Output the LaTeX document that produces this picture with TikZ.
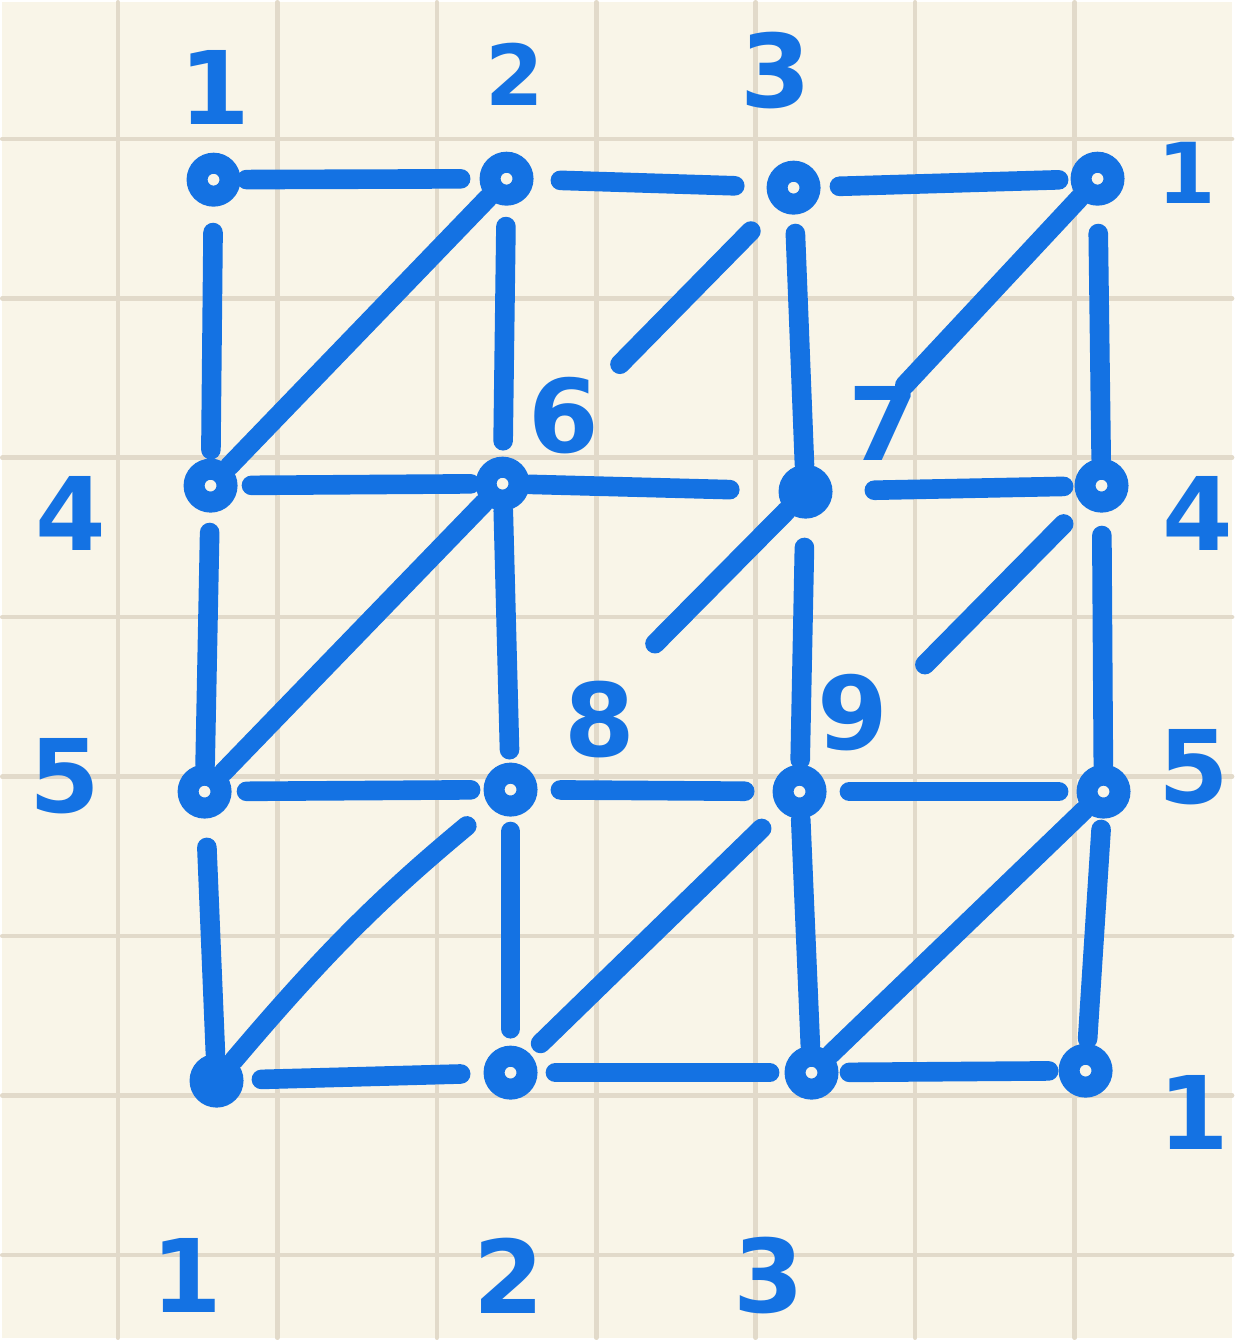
\documentclass[tikz,border=0pt]{standalone}
\usepackage{fontspec}
\setmainfont{DejaVu Sans}
\usetikzlibrary{positioning,backgrounds}
\definecolor{pnBlue}{HTML}{1472E3}
\definecolor{pnPaper}{HTML}{F9F5E8}
\definecolor{pnGrid}{HTML}{E2DACA}

\begin{document}
\begin{tikzpicture}[
  line cap=round,
  vtx/.style={circle,draw=pnBlue,fill=pnPaper,line width=6pt,minimum size=0.33cm,inner sep=0pt},
  hub/.style={vtx,fill=pnBlue},
  ln/.style 2 args={draw=pnBlue,line width=5.6pt,shorten <=#1cm,shorten >=#2cm},
  num/.style={font=\bfseries\fontsize{29}{29}\selectfont,text=pnBlue,inner sep=0pt},
  small/.style={num,font=\bfseries\fontsize{24}{24}\selectfont},
]
% squared paper
\fill[pnPaper] (0,0) rectangle (12.34,-13.40);
\foreach \k in {0,...,6} \draw[pnGrid,line width=1.3pt] ({1.16+1.6*\k},0) -- ++(0,-13.40);
\foreach \k in {0,...,7} \draw[pnGrid,line width=1.3pt] (0,{-1.37-1.6*\k}) -- ++(12.34,0);

% vertices, row by row
\node[vtx] (v11) at (2.12,-1.78) {};
\node[vtx] (v12) at (5.06,-1.77) {};
\node[vtx] (v13) at (7.94,-1.86) {};
\node[vtx] (v14) at (10.99,-1.77) {};
\node[vtx] (v21) at (2.09,-4.85) {};
\node[vtx] (v22) at (5.02,-4.83) {};
\node[hub] (v23) at (8.06,-4.91) {};
\node[vtx] (v24) at (11.03,-4.85) {};
\node[vtx] (v31) at (2.03,-7.92) {};
\node[vtx] (v32) at (5.10,-7.90) {};
\node[vtx] (v33) at (8.00,-7.92) {};
\node[vtx] (v34) at (11.05,-7.92) {};
\node[hub] (v41) at (2.15,-10.82) {};
\node[vtx] (v42) at (5.10,-10.74) {};
\node[vtx] (v43) at (8.12,-10.74) {};
\node[vtx] (v44) at (10.87,-10.72) {};

% horizontal edges
\path (v11) edge[ln={0.06}{0.19}] (v12) (v12) edge[ln={0.27}{0.32}] (v13) (v13) edge[ln={0.19}{0.12}] (v14);
\path (v21) edge[ln={0.14}{0.05}] (v22) (v22) edge[ln={0}{0.49}] (v23) (v23) edge[ln={0.42}{0.11}] (v24);
\path (v31) edge[ln={0.15}{0.13}] (v32) (v32) edge[ln={0.23}{0.28}] (v33) (v33) edge[ln={0.23}{0.18}] (v34);
\path (v41) edge[ln={0.18}{0.23}] (v42) (v42) edge[ln={0.18}{0.15}] (v43) (v43) edge[ln={0.11}{0.10}] (v44);
% vertical edges
\path (v11) edge[ln={0.26}{0.09}] (v21) (v21) edge[ln={0.20}{0}] (v31) (v31) edge[ln={0.29}{0}] (v41);
\path (v12) edge[ln={0.21}{0.16}] (v22) (v22) edge[ln={0}{0.13}] (v32) (v32) edge[ln={0.15}{0.17}] (v42);
\path (v13) edge[ln={0.19}{0}] (v23) (v23) edge[ln={0.29}{0.05}] (v33) (v33) edge[ln={0.01}{0}] (v43);
\path (v14) edge[ln={0.28}{0}] (v24) (v24) edge[ln={0.23}{0}] (v34) (v34) edge[ln={0.11}{0.05}] (v44);
% diagonals, some only half drawn
\path (v21) edge[ln={0}{0}] (v12) (v22) edge[ln={1.41}{0.34}] (v13) (v23) edge[ln={1.19}{0}] (v14);
\path (v31) edge[ln={0}{0}] (v22) (v32) edge[ln={1.79}{0}] (v23) (v33) edge[ln={1.52}{0.27}] (v24);
\path (v41) edge[ln={0}{0.30},bend left=5] (v32) (v42) edge[ln={0.15}{0.26}] (v33) (v43) edge[ln={0}{0}] (v34);

% numbering
\node[num]   (t1) at (2.13,-0.85) {1};
\node[small] (t2) at (5.14,-0.72) {2};
\node[num]   (t3) at (7.76,-0.68) {3};
\node[small] (r1) at (11.88,-1.71) {1};
\node[num]   (l4) at (0.69,-5.13) {4};
\node[num]   (r4) at (12.00,-5.13) {4};
\node[num]   (l5) at (0.63,-7.77) {5};
\node[num]   (r5) at (11.96,-7.68) {5};
\node[num]   (q1) at (11.96,-11.14) {1};
\node[num]   (b1) at (1.85,-12.78) {1};
\node[num]   (b2) at (5.08,-12.78) {2};
\node[num]   (b3) at (7.69,-12.78) {3};
\node[num]   (c6) at (5.63,-4.15) {6};
\node[num]   (c7) at (8.85,-4.23) {7};
\node[num]   (c8) at (6.00,-7.20) {8};
\node[num]   (c9) at (8.53,-7.13) {9};
\end{tikzpicture}
\end{document}
